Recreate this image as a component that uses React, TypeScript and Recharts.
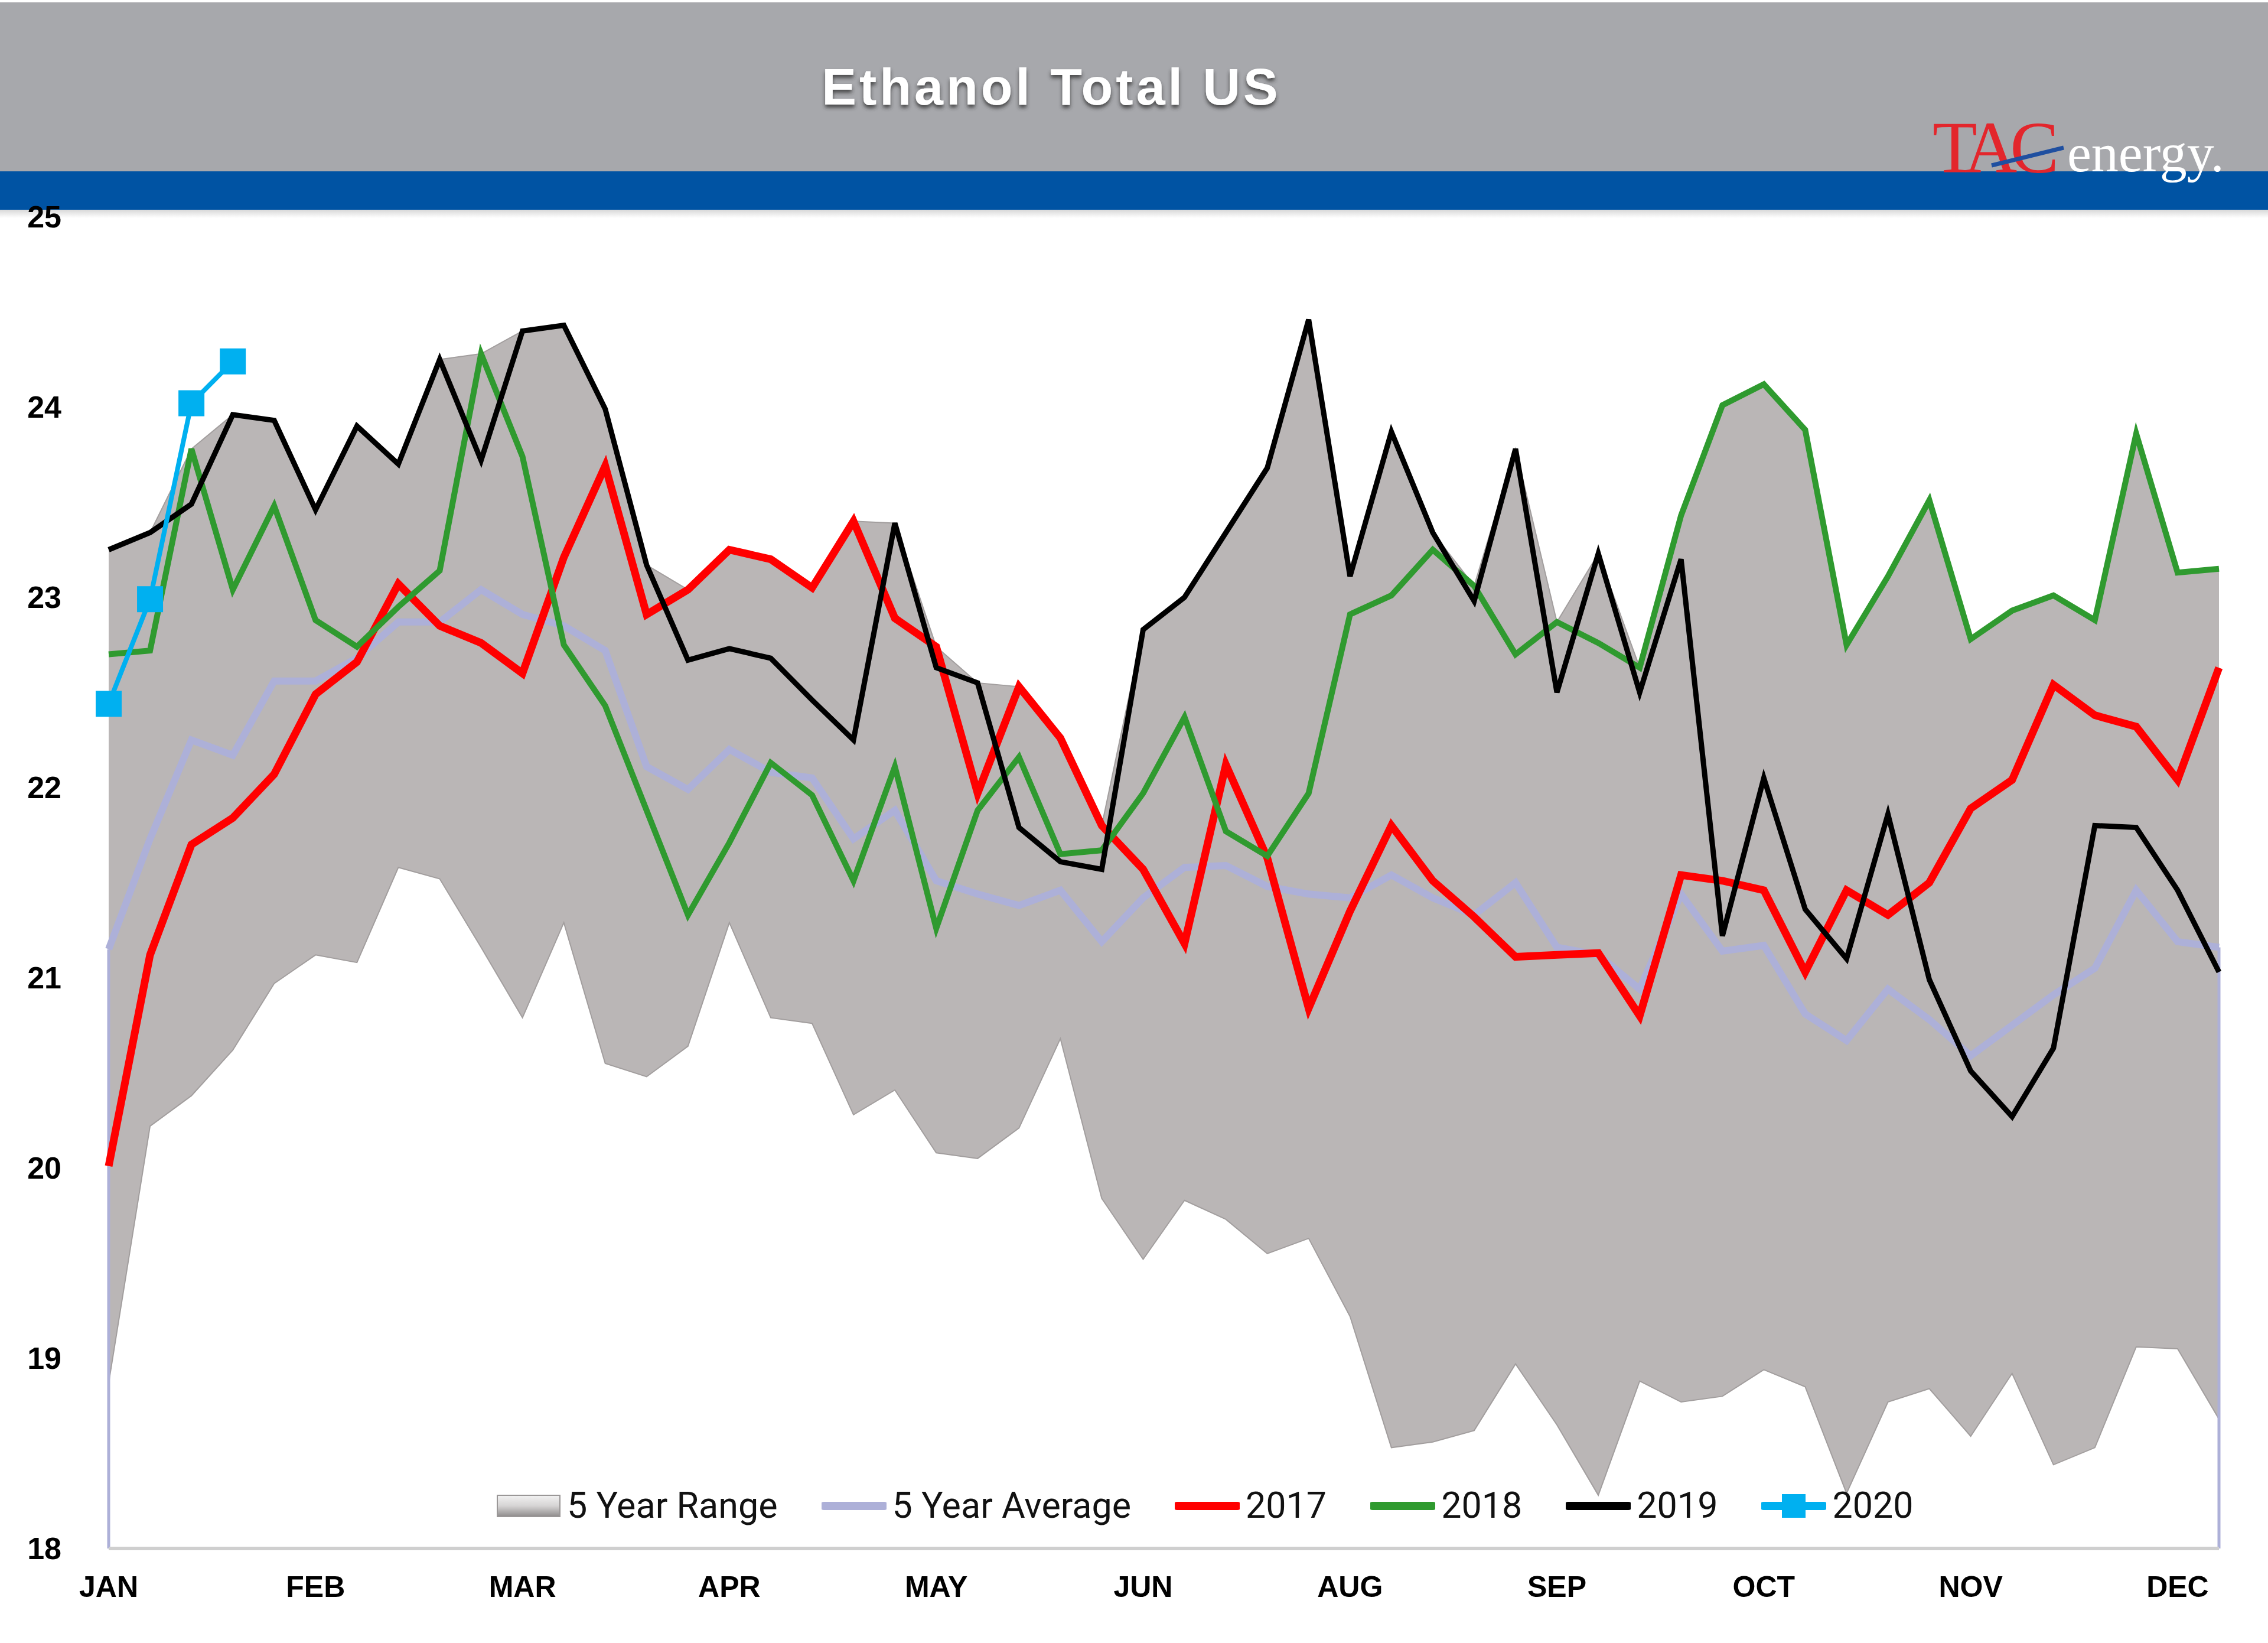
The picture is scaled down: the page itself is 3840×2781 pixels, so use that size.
import React from 'react'
import { ComposedChart, Area, Line, XAxis, YAxis, Legend, ReferenceLine } from 'recharts'

// weekly values, 52 weeks per year (millions of barrels)
const monthTicks = [0, 5, 10, 15, 20, 25, 30, 35, 40, 45, 50]
const monthLabels = ['JAN', 'FEB', 'MAR', 'APR', 'MAY', 'JUN', 'AUG', 'SEP', 'OCT', 'NOV', 'DEC']
const yTicks = [18, 19, 20, 21, 22, 23, 24, 25]

const rangeLow = [
  18.87, 20.22, 20.38, 20.62, 20.97, 21.12, 21.08, 21.58, 21.52, 21.16,
  20.79, 21.29, 20.55, 20.48, 20.64, 21.29, 20.79, 20.76, 20.28, 20.41,
  20.08, 20.05, 20.21, 20.68, 19.84, 19.52, 19.83, 19.73, 19.55, 19.63,
  19.22, 18.53, 18.56, 18.62, 18.97, 18.65, 18.28, 18.88, 18.77, 18.80,
  18.94, 18.85, 18.29, 18.77, 18.84, 18.59, 18.92, 18.44, 18.53, 19.06,
  19.05, 18.68,
]
const rangeHigh = [
  23.25, 23.34, 23.78, 23.96, 23.93, 23.46, 23.90, 23.70, 24.25, 24.28,
  24.40, 24.43, 23.99, 23.17, 23.04, 23.25, 23.20, 23.05, 23.40, 23.39,
  22.74, 22.55, 22.53, 22.26, 21.80, 22.83, 23.00, 23.34, 23.68, 24.46,
  23.11, 23.87, 23.34, 23.06, 23.78, 22.87, 23.23, 22.63, 23.43, 24.01,
  24.12, 23.88, 22.75, 23.11, 23.51, 22.78, 22.93, 23.01, 22.88, 23.86,
  23.13, 23.15,
]
const fiveYearAvg = [
  21.15, 21.73, 22.25, 22.17, 22.56, 22.56, 22.68, 22.87, 22.87, 23.04,
  22.91, 22.85, 22.72, 22.11, 21.99, 22.20, 22.08, 22.05, 21.73, 21.88,
  21.51, 21.44, 21.38, 21.46, 21.19, 21.42, 21.58, 21.59, 21.48, 21.44,
  21.42, 21.54, 21.42, 21.33, 21.50, 21.16, 21.12, 20.94, 21.44, 21.14,
  21.17, 20.81, 20.67, 20.94, 20.78, 20.59, 20.75, 20.91, 21.05, 21.46,
  21.19, 21.16,
]
const y2017 = [
  20.01, 21.12, 21.70, 21.84, 22.07, 22.49, 22.66, 23.07, 22.85, 22.76,
  22.60, 23.21, 23.69, 22.91, 23.04, 23.25, 23.20, 23.05, 23.40, 22.89,
  22.74, 21.97, 22.53, 22.26, 21.80, 21.57, 21.18, 22.12, 21.63, 20.84,
  21.35, 21.80, 21.51, 21.32, 21.11, 21.12, 21.13, 20.80, 21.54, 21.51,
  21.46, 21.03, 21.46, 21.33, 21.50, 21.89, 22.04, 22.54, 22.38, 22.32,
  22.04, 22.63,
]
const y2018 = [
  22.70, 22.72, 23.78, 23.04, 23.48, 22.88, 22.74, 22.95, 23.14, 24.28,
  23.74, 22.75, 22.43, 21.88, 21.33, 21.71, 22.13, 21.96, 21.51, 22.11,
  21.26, 21.88, 22.16, 21.65, 21.67, 21.97, 22.37, 21.77, 21.64, 21.97,
  22.91, 23.01, 23.25, 23.06, 22.70, 22.87, 22.76, 22.63, 23.43, 24.01,
  24.12, 23.88, 22.75, 23.11, 23.51, 22.78, 22.93, 23.01, 22.88, 23.86,
  23.13, 23.15,
]
const y2019 = [
  23.25, 23.34, 23.49, 23.96, 23.93, 23.46, 23.90, 23.70, 24.25, 23.72,
  24.40, 24.43, 23.99, 23.17, 22.67, 22.73, 22.68, 22.46, 22.25, 23.39,
  22.63, 22.55, 21.79, 21.61, 21.57, 22.83, 23.00, 23.34, 23.68, 24.46,
  23.11, 23.87, 23.34, 22.98, 23.78, 22.50, 23.23, 22.50, 23.20, 21.22,
  22.05, 21.36, 21.10, 21.86, 20.99, 20.51, 20.27, 20.63, 21.80, 21.79,
  21.46, 21.03,
]
const y2020 = [22.44, 22.99, 24.02, 24.24]

const COLORS = {
  range: '#bab6b6',
  avg: '#adb0d8',
  y2017: '#ff0000',
  y2018: '#2f9a2f',
  y2019: '#000000',
  y2020: '#00b0f0',
}

const data = rangeLow.map((low, i) => ({
  week: i,
  range: [low, rangeHigh[i]],
  avg: fiveYearAvg[i],
  y2017: y2017[i],
  y2018: y2018[i],
  y2019: y2019[i],
  y2020: i < y2020.length ? y2020[i] : null,
}))

const legendItems = [
  { key: 'range', label: '5 Year Range' },
  { key: 'avg', label: '5 Year Average' },
  { key: 'y2017', label: '2017' },
  { key: 'y2018', label: '2018' },
  { key: 'y2019', label: '2019' },
  { key: 'y2020', label: '2020' },
]

const SquareDot = (props: any) => {
  const { cx, cy, index } = props
  if (cx == null || cy == null || Number.isNaN(cy)) return <g key={`sq-${index}`} />
  return <rect key={`sq-${index}`} x={cx - 22} y={cy - 22} width={44} height={44} fill={COLORS.y2020} />
}

const LegendIcon = ({ kind }: { kind: string }) => {
  if (kind === 'range') {
    return (
      <svg width={110} height={44}>
        <defs>
          <linearGradient id="rangeIcon" x1="0" y1="0" x2="0" y2="1">
            <stop offset="0" stopColor="#f2f2f2" />
            <stop offset="0.5" stopColor="#d6d4d4" />
            <stop offset="1" stopColor="#8f8c8c" />
          </linearGradient>
        </defs>
        <rect x={2} y={4} width={106} height={36} fill="url(#rangeIcon)" stroke="#9a9797" strokeWidth={2} />
      </svg>
    )
  }
  const color = (COLORS as any)[kind]
  return (
    <svg width={110} height={44}>
      <line x1={4} y1={22} x2={106} y2={22} stroke={color} strokeWidth={14} strokeLinecap="round" />
      {kind === 'y2020' && <rect x={35} y={2} width={40} height={40} fill={color} />}
    </svg>
  )
}

const renderLegend = () => (
  <div style={{ display: 'flex', alignItems: 'center', whiteSpace: 'nowrap' }}>
    {legendItems.map((item) => (
      <div key={item.key} style={{ display: 'flex', alignItems: 'center', marginRight: 74 }}>
        <LegendIcon kind={item.key} />
        <span
          style={{
            marginLeft: 10,
            fontFamily: 'Roboto, sans-serif',
            fontSize: 61,
            color: '#111',
            lineHeight: 1,
          }}
        >
          {item.label}
        </span>
      </div>
    ))}
  </div>
)

export default function App() {
  return (
    <div
      style={{
        position: 'absolute',
        left: 0,
        top: 0,
        width: 3840,
        height: 2781,
        background: '#ffffff',
        overflow: 'hidden',
        fontFamily: "'Liberation Sans', Arial, sans-serif",
      }}
    >
      <div style={{ position: 'absolute', left: 0, top: 4, width: 3840, height: 286, background: '#a7a8ac' }} />
      <div style={{ position: 'absolute', left: 0, top: 290, width: 3840, height: 65, background: '#0053a3' }} />
      <div
        style={{
          position: 'absolute',
          left: 0,
          top: 355,
          width: 3840,
          height: 14,
          background: 'linear-gradient(#d8d8d8, #ffffff)',
        }}
      />
      <svg width={3840} height={380} style={{ position: 'absolute', left: 0, top: 0 }}>
        <defs>
          <filter id="titleShadow" x="-10%" y="-30%" width="120%" height="160%">
            <feDropShadow dx="0" dy="5" stdDeviation="3" floodColor="#333" floodOpacity="0.8" />
          </filter>
        </defs>
        <text
          x={1780}
          y={177}
          textAnchor="middle"
          fontSize={88}
          fontWeight="bold"
          letterSpacing={5}
          fill="#ffffff"
          filter="url(#titleShadow)"
        >
          Ethanol Total US
        </text>
        <text x={3272} y={292} fontFamily="'Liberation Serif', serif" fontSize={124} fill="#e3262c" letterSpacing={-12}>
          TAC
        </text>
        <line x1={3372} y1={280} x2={3494} y2={250} stroke="#1f4fa0" strokeWidth={7} />
        <text x={3500} y={290} fontFamily="'Liberation Serif', serif" fontSize={92} fill="#ffffff">
          energy.
        </text>
      </svg>
      <div style={{ position: 'absolute', left: 0, top: 0 }}>
        <ComposedChart
          width={3840}
          height={2781}
          data={data}
          margin={{ top: 367, right: 83, bottom: 60, left: 44 }}
        >
          <XAxis
            dataKey="week"
            type="number"
            domain={[0, 51]}
            ticks={monthTicks}
            tickFormatter={(v: number) => monthLabels[monthTicks.indexOf(v)]}
            axisLine={{ stroke: '#cfcfcf', strokeWidth: 6 }}
            tickLine={false}
            tickMargin={40}
            height={100}
            tick={{ fill: '#000', fontSize: 50, fontWeight: 'bold' }}
          />
          <YAxis
            domain={[18, 25]}
            ticks={yTicks}
            axisLine={false}
            tickLine={false}
            tickSize={0}
            tickMargin={80}
            width={140}
            tick={{ fill: '#000', fontSize: 52, fontWeight: 'bold' }}
          />
          <Area
            dataKey="range"
            fill={COLORS.range}
            fillOpacity={1}
            stroke="#a29e9e"
            strokeWidth={2}
            isAnimationActive={false}
          />
          <ReferenceLine
            segment={[{ x: 0, y: 18 }, { x: 0, y: fiveYearAvg[0] }]}
            stroke={COLORS.avg}
            strokeWidth={5}
          />
          <ReferenceLine
            segment={[{ x: 51, y: 18 }, { x: 51, y: fiveYearAvg[51] }]}
            stroke={COLORS.avg}
            strokeWidth={5}
          />
          <Line dataKey="avg" stroke={COLORS.avg} strokeWidth={12} dot={false} isAnimationActive={false} />
          <Line dataKey="y2017" stroke={COLORS.y2017} strokeWidth={13} dot={false} isAnimationActive={false} />
          <Line dataKey="y2018" stroke={COLORS.y2018} strokeWidth={10} dot={false} isAnimationActive={false} />
          <Line dataKey="y2019" stroke={COLORS.y2019} strokeWidth={9} dot={false} isAnimationActive={false} />
          <Line
            dataKey="y2020"
            stroke={COLORS.y2020}
            strokeWidth={8}
            dot={SquareDot}
            isAnimationActive={false}
          />
          <Legend
            verticalAlign="middle"
            align="center"
            content={renderLegend}
            wrapperStyle={{ left: 840, top: 2518, width: 'auto' }}
          />
        </ComposedChart>
      </div>
    </div>
  )
}
